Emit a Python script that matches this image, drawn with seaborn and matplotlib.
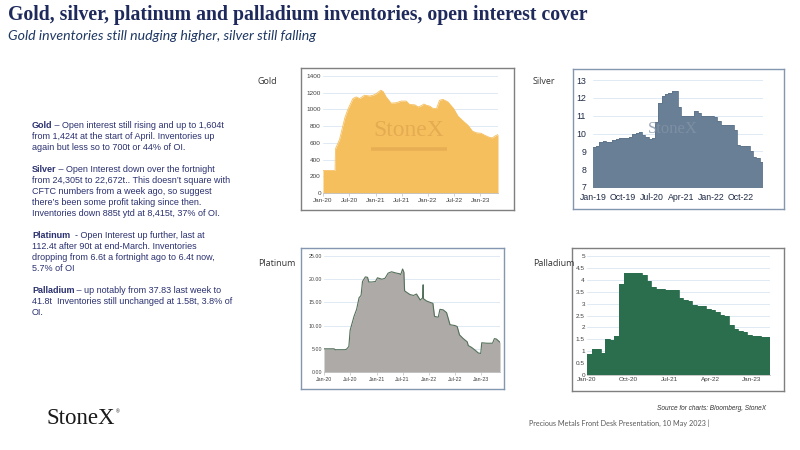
import matplotlib
matplotlib.use("Agg")
import matplotlib.pyplot as plt
import matplotlib.dates as mdates
import pandas as pd
import seaborn as sns

# --- Data ---

# Gold inventories (tonnes), daily series sampled at turning points
gold_dates = ["2020-01-01", "2020-03-25", "2020-03-28", "2020-04-25", "2020-06-01", "2020-06-22",
              "2020-07-27", "2020-08-19", "2020-09-12", "2020-10-16", "2020-11-21", "2020-12-15",
              "2021-01-07", "2021-02-06", "2021-02-22", "2021-03-15", "2021-04-19", "2021-05-24",
              "2021-06-28", "2021-08-02", "2021-08-25", "2021-10-01", "2021-10-24", "2021-11-16",
              "2021-12-03", "2021-12-21", "2022-01-13", "2022-02-01", "2022-03-01", "2022-03-22",
              "2022-04-15", "2022-05-19", "2022-06-28", "2022-07-28", "2022-09-03", "2022-10-06",
              "2022-11-06", "2022-12-04", "2023-01-04", "2023-02-01", "2023-03-06", "2023-03-25",
              "2023-04-10", "2023-05-03"]
gold_tonnes = [270, 270, 530, 640, 900, 1000,
               1130, 1150, 1130, 1170, 1160, 1170,
               1190, 1230, 1215, 1150, 1075, 1080,
               1100, 1100, 1060, 1055, 1030, 1045,
               1065, 1050, 1040, 1015, 1010, 1110,
               1120, 1090, 1010, 920, 860, 810,
               740, 720, 715, 690, 665, 660,
               680, 700]

# Silver inventories ('000 t), monthly from Jan-19
silver_start = "2019-01-01"
silver_kt = [9.24, 9.31, 9.50, 9.56, 9.50, 9.53, 9.63, 9.67, 9.72, 9.76, 9.77, 9.83,
             9.95, 10.04, 10.06, 9.90, 9.80, 9.70, 9.75, 10.67, 11.72, 12.10, 12.20, 12.25,
             12.37, 12.37, 11.50, 11.00, 10.97, 10.97, 10.97, 11.25, 11.15, 10.97, 10.97, 11.00,
             11.00, 10.95, 10.70, 10.45, 10.50, 10.50, 10.50, 10.17, 9.35, 9.30, 9.30, 9.30,
             9.03, 8.70, 8.60, 8.42]

# Platinum inventories (tonnes)
plat_dates = ["2020-01-01", "2020-03-10", "2020-03-20", "2020-05-25", "2020-06-05", "2020-06-22",
              "2020-07-01", "2020-07-10", "2020-07-28", "2020-08-15", "2020-09-01", "2020-09-15",
              "2020-09-25", "2020-10-15", "2020-10-30", "2020-11-08", "2020-11-28", "2020-12-24",
              "2021-01-07", "2021-02-07", "2021-03-01", "2021-03-22", "2021-04-15", "2021-05-20",
              "2021-06-08", "2021-06-18", "2021-07-01", "2021-07-10", "2021-07-15", "2021-07-28",
              "2021-08-21", "2021-09-15", "2021-10-06", "2021-11-01", "2021-11-18", "2021-11-21",
              "2021-11-23", "2021-12-15", "2022-01-09", "2022-01-28", "2022-02-08", "2022-03-06",
              "2022-03-18", "2022-04-09", "2022-05-03", "2022-05-27", "2022-07-01", "2022-07-16",
              "2022-08-01", "2022-08-27", "2022-09-24", "2022-10-01", "2022-10-24", "2022-11-18",
              "2022-12-10", "2022-12-27", "2023-01-03", "2023-02-08", "2023-03-19", "2023-04-01",
              "2023-04-15", "2023-05-10"]
plat_tonnes = [5.0, 5.0, 4.8, 4.8, 4.9, 5.5,
               9.0, 10.0, 12.0, 13.5, 16.0, 16.5,
               19.5, 20.5, 20.4, 19.4, 19.4, 19.5,
               20.3, 20.0, 20.2, 21.3, 21.6, 21.3,
               21.2, 21.0, 22.2, 21.5, 17.5, 17.2,
               16.7, 16.5, 16.8, 15.5, 16.0, 18.8,
               15.8, 15.3, 15.0, 14.8, 12.0, 11.8,
               13.5, 13.4, 12.8, 10.2, 10.0, 9.8,
               8.0, 7.2, 6.5, 5.7, 5.3, 4.7,
               4.1, 4.0, 6.3, 6.2, 6.2, 7.2,
               7.1, 6.4]

# Palladium inventories (tonnes), monthly from Jan-20
pall_start = "2020-01-01"
pall_tonnes = [0.90, 1.08, 1.08, 0.93, 1.52, 1.45, 1.65, 3.83, 4.30, 4.30, 4.30, 4.30,
               4.22, 3.97, 3.68, 3.63, 3.63, 3.57, 3.57, 3.56, 3.25, 3.14, 3.12, 2.95,
               2.92, 2.90, 2.78, 2.72, 2.66, 2.52, 2.47, 2.08, 1.95, 1.86, 1.81, 1.66,
               1.65, 1.62, 1.58, 1.58]

commentary = [
    ("Gold", [" \u2013 Open interest still rising and up to 1,604t",
              "from 1,424t at the start of April. Inventories up",
              "again but less so to 700t or 44% of OI."]),
    ("Silver", [" \u2013 Open Interest down over the fortnight",
                "from 24,305t to 22,672t.. This doesn\u2019t square with",
                "CFTC numbers from a week ago, so suggest",
                "there\u2019s been some profit taking since then.",
                "Inventories down 885t ytd at 8,415t, 37% of OI."]),
    ("Platinum", ["  - Open Interest up further, last at",
                  "112.4t after 90t at end-March. Inventories",
                  "dropping from 6.6t a fortnight ago to 6.4t now,",
                  "5.7% of OI"]),
    ("Palladium", [" \u2013 up notably from 37.83 last week to",
                   "41.8t  Inventories still unchanged at 1.58t, 3.8% of",
                   "OI."]),
]

# --- Styling ---
sns.set_theme(style="white")
plt.rcParams["font.family"] = ["Liberation Sans", "DejaVu Sans"]
NAVY = "#1f2a5c"
TEXT_BLUE = "#2b3170"
W, H = 800, 450

fig = plt.figure(figsize=(8, 4.5), dpi=100)
fig.patch.set_facecolor("white")


def px_axes(left, top, right, bottom):
    return fig.add_axes([left / W, 1 - bottom / H, (right - left) / W, (bottom - top) / H])


def frame(left, top, right, bottom, color):
    box = px_axes(left, top, right, bottom)
    box.set_xticks([])
    box.set_yticks([])
    box.patch.set_alpha(0)
    for s in box.spines.values():
        s.set_color(color)
        s.set_linewidth(1.0)
    return box


def area_panel(ax, df, fill, edge, step=False, lw=0.6):
    sns.lineplot(data=df, x="date", y="value", ax=ax, color=edge, linewidth=lw,
                 estimator=None, drawstyle="steps-post" if step else "default")
    ax.fill_between(df["date"], df["value"], 0, color=fill, linewidth=0,
                    step="post" if step else None, zorder=1)
    ax.patch.set_alpha(0)
    for side in ["top", "right", "left"]:
        ax.spines[side].set_visible(False)
    ax.spines["bottom"].set_color("#bfbfbf")
    ax.spines["bottom"].set_linewidth(0.6)
    ax.yaxis.grid(True, color="#dbe6f3", linewidth=0.6)
    ax.set_axisbelow(True)
    ax.set_xlabel("")
    ax.set_ylabel("")
    ax.xaxis.set_major_formatter(mdates.DateFormatter("%b-%y"))


def monthly(start, values):
    dates = pd.date_range(start, periods=len(values), freq="MS")
    df = pd.DataFrame({"date": dates, "value": values})
    # repeat last value one month on so the final step is drawn
    tail = pd.DataFrame({"date": [dates[-1] + pd.DateOffset(months=1)], "value": [values[-1]]})
    return pd.concat([df, tail], ignore_index=True)


def panel_label(x, y, s):
    fig.text(x / W, 1 - y / H, s, fontsize=6.5, color="#333333", va="center",
             family=["Open Sans", "DejaVu Sans"])


# --- Gold ---
frame(301, 68, 514, 210, "#7f7f7f")
ax = px_axes(323, 76, 498, 193)
df_gold = pd.DataFrame({"date": pd.to_datetime(gold_dates), "value": gold_tonnes})
area_panel(ax, df_gold, "#f6bf5e", "#f6bf5e")
ax.set_ylim(0, 1400)
ax.set_yticks(range(0, 1401, 200))
ax.set_xlim(df_gold["date"].iloc[0], df_gold["date"].iloc[-1])
ax.xaxis.set_major_locator(mdates.MonthLocator(bymonth=[1, 7]))
ax.tick_params(axis="both", labelsize=4.6, colors="#404040", pad=1.5, length=0)
ax.tick_params(axis="x", length=2, width=0.5, color="#bfbfbf", direction="out", bottom=True)
ax.text(0.49, 0.53, "StoneX", transform=ax.transAxes, ha="center", va="center",
        family="Liberation Serif", fontsize=17, color="#e0a64d", alpha=0.8)
ax.plot([0.275, 0.71], [0.378, 0.378], transform=ax.transAxes, color="#e2a84f",
        linewidth=2.6, alpha=0.7, solid_capstyle="butt")
panel_label(258, 82, "Gold")

# --- Silver ---
frame(573, 69, 784, 209, "#8497b0")
ax = px_axes(593, 80, 763, 187)
df_silver = monthly(silver_start, silver_kt)
area_panel(ax, df_silver, "#687f96", "#5e758c", step=True)
ax.spines["bottom"].set_visible(False)
ax.set_ylim(7, 13)
ax.set_yticks(range(7, 14))
ax.set_xlim(df_silver["date"].iloc[0], df_silver["date"].iloc[-1])
ax.set_xticks(pd.date_range(silver_start, periods=6, freq="9MS"))
ax.tick_params(axis="both", labelsize=6.3, colors="#1f2a44", length=0)
ax.tick_params(axis="x", pad=4)
ax.tick_params(axis="y", pad=5)
ax.text(0.47, 0.545, "StoneX", transform=ax.transAxes, ha="center", va="center",
        family="Liberation Serif", fontsize=12, color="#8393a6", alpha=0.8)
panel_label(533, 82, "Silver")

# --- Platinum ---
frame(301, 248, 504, 389, "#8497b0")
ax = px_axes(324, 256, 500, 372)
df_plat = pd.DataFrame({"date": pd.to_datetime(plat_dates), "value": plat_tonnes})
area_panel(ax, df_plat, "#aeaaa8", "#55705a", lw=0.8)
ax.set_ylim(0, 25)
ax.set_yticks(range(0, 26, 5))
ax.yaxis.set_major_formatter(matplotlib.ticker.FormatStrFormatter("%.2f"))
ax.set_xlim(df_plat["date"].iloc[0], df_plat["date"].iloc[-1])
ax.xaxis.set_major_locator(mdates.MonthLocator(bymonth=[1, 7]))
ax.tick_params(axis="both", labelsize=3.8, colors="#404040", pad=1.5, length=0)
ax.tick_params(axis="x", length=2, width=0.5, color="#bfbfbf", direction="out", bottom=True)
panel_label(258, 264, "Platinum")

# --- Palladium ---
frame(572, 248, 784, 391, "#7f7f7f")
ax = px_axes(587, 256, 770, 375)
df_pall = monthly(pall_start, pall_tonnes)
area_panel(ax, df_pall, "#2a6e4e", "#2a6e4e", step=True)
ax.set_ylim(0, 5)
ax.set_yticks([i * 0.5 for i in range(11)])
ax.yaxis.set_major_formatter(matplotlib.ticker.FuncFormatter(lambda v, p: f"{v:g}"))
ax.set_xlim(df_pall["date"].iloc[0], df_pall["date"].iloc[-1])
ax.set_xticks(pd.date_range(pall_start, periods=5, freq="9MS"))
ax.tick_params(axis="both", labelsize=4.6, colors="#404040", pad=1.5, length=0)
panel_label(533, 263, "Palladium")

# --- Titles ---
fig.text(8 / W, 1 - 15 / H, "Gold, silver, platinum and palladium inventories, open interest cover",
         family="Liberation Serif", fontweight="bold", fontsize=14.2, color=NAVY, va="center")
fig.text(8 / W, 1 - 36 / H, "Gold inventories still nudging higher, silver still falling",
         family=["Lato", "DejaVu Sans"], style="italic", fontsize=10.2, color="#1f3864",
         va="center")

# --- Commentary ---
renderer = fig.canvas.get_renderer()
tops = [125.7, 170.0, 235.7, 290.7]
line_h = 10.8
for (lead, lines), y0 in zip(commentary, tops):
    t = fig.text(32 / W, 1 - y0 / H, lead, fontsize=6.5, fontweight="bold", color=TEXT_BLUE,
                 va="center")
    ext = t.get_window_extent(renderer)
    fig.text(ext.x1 / W, 1 - y0 / H, lines[0], fontsize=6.5, color=TEXT_BLUE, va="center")
    for i, ln in enumerate(lines[1:], start=1):
        fig.text(32 / W, 1 - (y0 + i * line_h) / H, ln, fontsize=6.5, color=TEXT_BLUE,
                 va="center")

# --- Footer ---
fig.text(766 / W, 1 - 408 / H, "Source for charts: Bloomberg, StoneX", ha="right", va="center",
         style="italic", fontsize=4.7, color="#333333")
fig.text(529 / W, 1 - 423 / H, "Precious Metals Front Desk Presentation, 10 May 2023 |",
         va="center", fontsize=5.2, color="#595959", family=["Lato", "DejaVu Sans"])
logo = fig.text(47 / W, 1 - 418 / H, "StoneX", va="center", family="Liberation Serif",
                fontsize=16.5, color="#1a1a1a")
lext = logo.get_window_extent(renderer)
fig.text(lext.x1 / W, 1 - 412 / H, "\u00ae", va="center", fontsize=3.5, color="#1a1a1a")

fig.savefig("out.png", dpi=100)
